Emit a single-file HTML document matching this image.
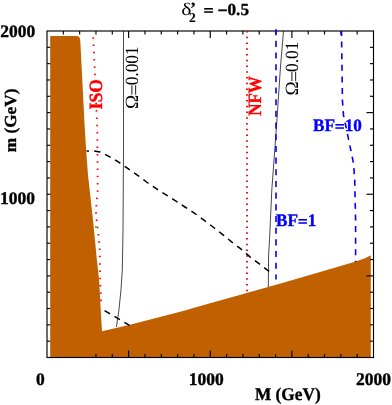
<!DOCTYPE html>
<html><head><meta charset="utf-8"><title>plot</title>
<style>
html,body{margin:0;padding:0;background:#fff;}
svg{display:block;will-change:transform;transform:translateZ(0);}
text{font-family:"Liberation Serif", serif;font-size:17px;fill:#000;-webkit-font-smoothing:antialiased;text-rendering:geometricPrecision;}
.b{font-weight:bold;stroke:#000;stroke-width:0.35px;paint-order:stroke;}
.r{fill:#ff0000;stroke:#ff0000;}
.u{fill:#0000ff;stroke:#0000ff;}
</style></head><body>
<svg width="392" height="405" viewBox="0 0 392 405">
<rect x="0" y="0" width="392" height="405" fill="#fff"/>
<g stroke="#000" stroke-width="1.15" fill="none">
<line x1="47.0" y1="341.18" x2="50.5" y2="341.18"/>
<line x1="47.0" y1="324.85" x2="50.5" y2="324.85"/>
<line x1="47.0" y1="308.52" x2="50.5" y2="308.52"/>
<line x1="47.0" y1="292.20" x2="50.5" y2="292.20"/>
<line x1="47.0" y1="275.88" x2="54.0" y2="275.88"/>
<line x1="47.0" y1="259.55" x2="50.5" y2="259.55"/>
<line x1="47.0" y1="243.22" x2="50.5" y2="243.22"/>
<line x1="47.0" y1="226.90" x2="50.5" y2="226.90"/>
<line x1="47.0" y1="210.57" x2="50.5" y2="210.57"/>
<line x1="47.0" y1="194.25" x2="54.0" y2="194.25"/>
<line x1="47.0" y1="177.93" x2="50.5" y2="177.93"/>
<line x1="47.0" y1="161.60" x2="50.5" y2="161.60"/>
<line x1="47.0" y1="145.28" x2="50.5" y2="145.28"/>
<line x1="47.0" y1="128.95" x2="50.5" y2="128.95"/>
<line x1="47.0" y1="112.62" x2="54.0" y2="112.62"/>
<line x1="47.0" y1="96.30" x2="50.5" y2="96.30"/>
<line x1="47.0" y1="79.98" x2="50.5" y2="79.98"/>
<line x1="47.0" y1="63.65" x2="50.5" y2="63.65"/>
<line x1="47.0" y1="47.32" x2="50.5" y2="47.32"/>
</g>
<polygon points="50.2,357.5 50.2,36.6 50.8,36 76.5,36 78.6,36.5 79.7,37.8 80.3,41 84.6,125 86.1,150 88.0,175 93,220 96.9,260 99.1,280 101,315 102,331.2 130,324.7 185,310.4 195,307.6 285,282.3 355,261.8 365,258.2 370.8,255.2 370.8,357.5" fill="#C06000"/>
<g stroke="#000" stroke-width="1.15" fill="none">
<rect x="47.0" y="31.0" width="326.5" height="326.5"/>
<line x1="373.5" y1="341.18" x2="370.0" y2="341.18"/>
<line x1="63.33" y1="31.0" x2="63.33" y2="34.5"/>
<line x1="373.5" y1="324.85" x2="370.0" y2="324.85"/>
<line x1="79.65" y1="31.0" x2="79.65" y2="34.5"/>
<line x1="373.5" y1="308.52" x2="370.0" y2="308.52"/>
<line x1="95.97" y1="357.5" x2="95.97" y2="354.0"/>
<line x1="95.97" y1="31.0" x2="95.97" y2="34.5"/>
<line x1="373.5" y1="292.20" x2="370.0" y2="292.20"/>
<line x1="112.30" y1="357.5" x2="112.30" y2="354.0"/>
<line x1="112.30" y1="31.0" x2="112.30" y2="34.5"/>
<line x1="373.5" y1="275.88" x2="366.5" y2="275.88"/>
<line x1="128.62" y1="357.5" x2="128.62" y2="350.5"/>
<line x1="128.62" y1="31.0" x2="128.62" y2="38.0"/>
<line x1="373.5" y1="259.55" x2="370.0" y2="259.55"/>
<line x1="144.95" y1="357.5" x2="144.95" y2="354.0"/>
<line x1="144.95" y1="31.0" x2="144.95" y2="34.5"/>
<line x1="373.5" y1="243.22" x2="370.0" y2="243.22"/>
<line x1="161.28" y1="357.5" x2="161.28" y2="354.0"/>
<line x1="161.28" y1="31.0" x2="161.28" y2="34.5"/>
<line x1="373.5" y1="226.90" x2="370.0" y2="226.90"/>
<line x1="177.60" y1="357.5" x2="177.60" y2="354.0"/>
<line x1="177.60" y1="31.0" x2="177.60" y2="34.5"/>
<line x1="373.5" y1="210.57" x2="370.0" y2="210.57"/>
<line x1="193.93" y1="357.5" x2="193.93" y2="354.0"/>
<line x1="193.93" y1="31.0" x2="193.93" y2="34.5"/>
<line x1="373.5" y1="194.25" x2="366.5" y2="194.25"/>
<line x1="210.25" y1="357.5" x2="210.25" y2="350.5"/>
<line x1="210.25" y1="31.0" x2="210.25" y2="38.0"/>
<line x1="373.5" y1="177.93" x2="370.0" y2="177.93"/>
<line x1="226.57" y1="357.5" x2="226.57" y2="354.0"/>
<line x1="226.57" y1="31.0" x2="226.57" y2="34.5"/>
<line x1="373.5" y1="161.60" x2="370.0" y2="161.60"/>
<line x1="242.90" y1="357.5" x2="242.90" y2="354.0"/>
<line x1="242.90" y1="31.0" x2="242.90" y2="34.5"/>
<line x1="373.5" y1="145.28" x2="370.0" y2="145.28"/>
<line x1="259.23" y1="357.5" x2="259.23" y2="354.0"/>
<line x1="259.23" y1="31.0" x2="259.23" y2="34.5"/>
<line x1="373.5" y1="128.95" x2="370.0" y2="128.95"/>
<line x1="275.55" y1="357.5" x2="275.55" y2="354.0"/>
<line x1="275.55" y1="31.0" x2="275.55" y2="34.5"/>
<line x1="373.5" y1="112.62" x2="366.5" y2="112.62"/>
<line x1="291.88" y1="357.5" x2="291.88" y2="350.5"/>
<line x1="291.88" y1="31.0" x2="291.88" y2="38.0"/>
<line x1="373.5" y1="96.30" x2="370.0" y2="96.30"/>
<line x1="308.20" y1="357.5" x2="308.20" y2="354.0"/>
<line x1="308.20" y1="31.0" x2="308.20" y2="34.5"/>
<line x1="373.5" y1="79.98" x2="370.0" y2="79.98"/>
<line x1="324.52" y1="357.5" x2="324.52" y2="354.0"/>
<line x1="324.52" y1="31.0" x2="324.52" y2="34.5"/>
<line x1="373.5" y1="63.65" x2="370.0" y2="63.65"/>
<line x1="340.85" y1="357.5" x2="340.85" y2="354.0"/>
<line x1="340.85" y1="31.0" x2="340.85" y2="34.5"/>
<line x1="373.5" y1="47.32" x2="370.0" y2="47.32"/>
<line x1="357.18" y1="357.5" x2="357.18" y2="354.0"/>
<line x1="357.18" y1="31.0" x2="357.18" y2="34.5"/>
</g>
<polyline points="93.25,37.2 95.2,80 97.3,130 97.7,190 96.4,205 96.0,213 96.6,220 97.6,227.4 98.5,234.6 99.1,241.8 99.7,249 99.9,256.3 100.3,285.4 101.1,300 101.2,303" fill="none" stroke="#ff0000" stroke-width="1.8" stroke-dasharray="1.5 5.8"/>
<polyline points="247,31 247,293" fill="none" stroke="#ff0000" stroke-width="1.9" stroke-dasharray="1.5 4.25"/>
<polyline points="123.5,31 123.5,150 123.0,230 122.3,270 121.0,289.5 119.0,309.3 116.4,327" fill="none" stroke="#000" stroke-width="0.72"/>
<polyline points="283.5,31 280.4,68 276.6,125 271.8,190 269.5,240 268.6,255.3 268.3,287" fill="none" stroke="#000" stroke-width="0.72"/>
<polyline points="86.6,151 94,150.9 100,151.9 107,155.3 118,161.7 127.4,168.2 137,174.8 146.5,182 155.6,188.2 165.6,194.6 175.2,200.6 185,207 195,213.5 204.3,220.4 213.7,227.5 222.7,234.6 231.6,241.8 240.8,248.9 250,256.9 271.6,273.2" fill="none" stroke="#000" stroke-width="1.5" stroke-dasharray="6.3 5.2" stroke-dashoffset="3.9"/>
<polyline points="102.6,309.4 129.5,325.4" fill="none" stroke="#000" stroke-width="1.5" stroke-dasharray="6.3 5.2" stroke-dashoffset="-2.3"/>
<polyline points="276,29.3 276,279.4" fill="none" stroke="#0000ff" stroke-width="1.6" stroke-dasharray="6.1 5.58" stroke-dashoffset="0.2"/>
<polyline points="341.5,31 342.3,88.8 342.4,100 343.5,115.3 345.9,126.5 348,136.7 351,151 353.5,163.3 354.7,180 355.6,220 355.6,262" fill="none" stroke="#0000ff" stroke-width="1.6" stroke-dasharray="6 5.6" stroke-dashoffset="1"/>
<rect x="95" y="226" width="1.9" height="1.9" fill="#10f010"/>
<text class="b" transform="translate(0.20,36.60) scale(1.03,1.03)">2000</text>
<text class="b" transform="translate(0.00,203.50) scale(1.03,1.05)">1000</text>
<text class="b" transform="translate(35.90,385.25) scale(1.03,1.05)">0</text>
<text class="b" transform="translate(188.80,385.25) scale(1.03,1.05)">1000</text>
<text class="b" transform="translate(356.10,385.25) scale(1.03,1.05)">2000</text>
<text class="b" transform="translate(254.90,399.70) scale(1.017,1.05)">M (GeV)</text>
<text class="b" transform="translate(15.80,152.30) rotate(-90) scale(1.015,0.99)">m (GeV)</text>
<text class="b r" transform="translate(101.80,109.40) rotate(-90) scale(1.035,1.1)">ISO</text>
<text class="b r" transform="translate(261.20,115.80) rotate(-90) scale(1,1.1)">NFW</text>
<text class="n" transform="translate(138.40,109.00) rotate(-90) scale(1.13,1.1)">Ω</text>
<text class="n" transform="translate(140.00,95.40) rotate(-90) scale(1.17,1.1)">=</text>
<text class="n" transform="translate(138.40,85.30) rotate(-90) scale(1.02,1.1)">0.001</text>
<text class="n" transform="translate(298.20,95.60) rotate(-90) scale(1.13,1.1)">Ω</text>
<text class="n" transform="translate(299.80,82.00) rotate(-90) scale(1.17,1.1)">=</text>
<text class="n" transform="translate(298.20,71.90) rotate(-90) scale(1.02,1.1)">0.01</text>
<text class="b u" transform="translate(313.00,131.20) scale(1.01,1.03)">BF</text>
<text class="b u" transform="translate(334.80,132.40) scale(1.04,1)">=</text>
<text class="b u" transform="translate(344.70,131.20) scale(1.01,1.03)">10</text>
<text class="b u" transform="translate(276.00,226.00) scale(1.01,1.03)">BF</text>
<text class="b u" transform="translate(297.80,227.20) scale(1.04,1)">=</text>
<text class="b u" transform="translate(307.70,226.00) scale(1.01,1.03)">1</text>
<text class="n" transform="translate(181.30,14.80) scale(1.27,1.04)">δ</text>
<text class="b" transform="translate(190.20,14.10)">’</text>
<text class="b" transform="translate(189.00,21.80)" style="font-size:13.5px;stroke-width:0.1px">2</text>
<text class="b" transform="translate(203.50,16.40) scale(1.06,1)">=</text>
<text class="b" transform="translate(217.40,16.40) scale(1.06,1)">−</text>
<text class="b" transform="translate(227.50,15.00) scale(1.01,1)">0.5</text>
</svg>
</body></html>
